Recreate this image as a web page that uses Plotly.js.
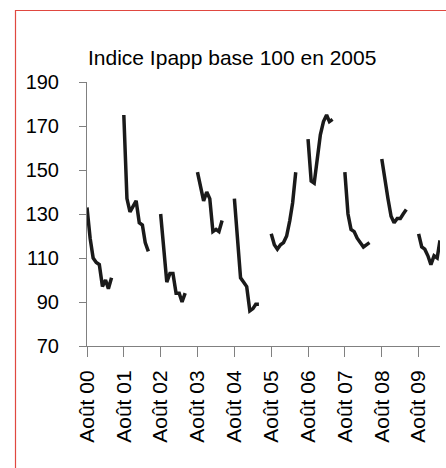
<!DOCTYPE html>
<html>
<head>
<meta charset="utf-8">
<script src="https://cdn.plot.ly/plotly-3.0.1.min.js"></script>
<style>
html,body{margin:0;padding:0;background:#fff;}
#chart{width:446px;height:468px;}
</style>
</head>
<body>
<div id="chart"></div>
<script>
const seasonStarts = ['2000-08','2001-08','2002-08','2003-08','2004-08','2005-08','2006-08','2007-08','2008-08','2009-08'];
const s2000 = [133,119,110,108,107,97,100,96,101];
const s2001 = [175,137,131,134,136,126,125,117,113];
const s2002 = [130,114,99,103,103,94,94,90,94];
const s2003 = [149,142,136,140,137,122,123,122,127];
const s2004 = [137,117,101,99,97,86,87,89,89];
const s2005 = [121,116,114,116,117,120,127,135,149];
const s2006 = [164,145,144,156,166,172,175,172,173];
const s2007 = [149,130,123,122,119,117,115,116,117];
const s2008 = [155,145,137,129,126,128,128,130,132];
const s2009 = [121,115,114,111,107,111,110,118];
const seasons = [s2000,s2001,s2002,s2003,s2004,s2005,s2006,s2007,s2008,s2009];

const tickDates = ['2000-08-01','2001-08-01','2002-08-01','2003-08-01','2004-08-01','2005-08-01','2006-08-01','2007-08-01','2008-08-01','2009-08-01'];
const tickLabels = ['Août 00','Août 01','Août 02','Août 03','Août 04','Août 05','Août 06','Août 07','Août 08','Août 09'];
const yTicks = [70,90,110,130,150,170,190];
const titleText = 'Indice Ipapp base 100 en 2005';

function monthDate(start, k){
  const [y,m] = start.split('-').map(Number);
  const t = (m-1) + k;
  const yy = y + Math.floor(t/12);
  const mm = (t%12)+1;
  return yy + '-' + String(mm).padStart(2,'0') + '-01';
}

const x = [], y = [];
seasons.forEach((vals, i) => {
  vals.forEach((v, k) => { x.push(monthDate(seasonStarts[i], k)); y.push(v); });
  if (i < seasons.length-1) { x.push(monthDate(seasonStarts[i], vals.length)); y.push(null); }
});

const fam = 'Arial, "Liberation Sans", sans-serif';
const font = {family:fam, size:20, color:'#000'};

const trace = {
  x:x, y:y, type:'scatter', mode:'lines', connectgaps:false,
  line:{color:'#1a1a1a', width:3.5}, hoverinfo:'skip'
};

const leftX = (15.5-87)/353;
const topY = (346-10.5)/264;
const botY = (346-480)/264;
const rightX = (452-87)/353;

const layout = {
  width:446, height:468,
  margin:{l:87, r:6, t:82, b:122},
  paper_bgcolor:'#fff', plot_bgcolor:'#fff',
  font:font, showlegend:false,
  xaxis:{
    type:'date', range:['2000-08-01','2010-03-01'],
    tickmode:'array', tickvals:tickDates, ticktext:tickLabels, tickangle:-90,
    ticks:'outside', ticklen:10, tickcolor:'#808080', tickwidth:1,
    showline:true, linecolor:'#808080', linewidth:1,
    showgrid:false, zeroline:false, tickfont:{family:fam, size:21, color:'#000'},
    ticklabelstandoff:5, fixedrange:true
  },
  yaxis:{
    range:[70,190], tickmode:'array', tickvals:yTicks,
    ticks:'outside', ticklen:7, tickcolor:'#808080', tickwidth:1,
    showline:true, linecolor:'#808080', linewidth:1,
    showgrid:false, zeroline:false, tickfont:font, ticklabelstandoff:16, fixedrange:true
  },
  annotations:[{
    text:titleText, xref:'paper', yref:'paper', x:0, y:1,
    xanchor:'left', yanchor:'middle', yshift:25, xshift:-1, showarrow:false,
    font:{family:fam, size:21, color:'#000'}
  }],
  shapes:[
    {type:'path', xref:'paper', yref:'paper',
     path:'M ' + leftX + ',' + botY + ' L ' + leftX + ',' + topY + ' L ' + rightX + ',' + topY,
     line:{color:'rgb(224,72,64)', width:1.2}, layer:'above'}
  ]
};

Plotly.newPlot('chart', [trace], layout, {staticPlot:true, displayModeBar:false});
</script>
</body>
</html>
